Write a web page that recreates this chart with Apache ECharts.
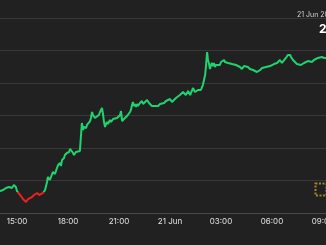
<!DOCTYPE html>
<html>
<head>
<meta charset="utf-8">
<script src="https://cdn.jsdelivr.net/npm/echarts@6/dist/echarts.min.js"></script>
<style>
html,body{margin:0;padding:0;background:#212121;}
#c{width:326px;height:245px;}
</style>
</head>
<body>
<div id="c"></div>
<script>
// Times (20 Jun -> 21 Jun), HH:MM clock
var times = ["13:52","14:00","14:11","14:21","14:32","14:39","14:42","14:49","14:53","14:56","15:00","15:07","15:14","15:21","15:28","15:32","15:39","15:46","15:53","16:00","16:07","16:11","16:18","16:25","16:32","16:39","16:46","16:49","16:56","17:04","17:07","17:14","17:21","17:25","17:32","17:35","17:39","17:46","17:49","17:53","17:56","18:04","18:07","18:11","18:14","18:18","18:21","18:25","18:28","18:35","18:42","18:46","18:49","18:53","18:56","19:04","19:07","19:14","19:18","19:21","19:25","19:28","19:32","19:35","19:39","19:42","19:49","19:53","20:00","20:04","20:07","20:11","20:14","20:18","20:21","20:28","20:32","20:39","20:46","20:53","21:00","21:04","21:07","21:11","21:14","21:21","21:28","21:32","21:39","21:42","21:46","21:49","21:53","21:56","22:00","22:04","22:07","22:14","22:21","22:25","22:32","22:39","22:42","22:46","22:49","22:56","23:04","23:11","23:18","23:25","23:32","23:39","23:46","23:53","00:00","00:07","00:14","00:21","00:28","00:35","00:42","00:46","00:49","00:53","00:56","01:00","01:04","01:07","01:11","01:14","01:18","01:21","01:25","01:28","01:32","01:35","01:39","01:46","01:49","01:53","01:56","02:00","02:04","02:07","02:11","02:14","02:18","02:21","02:25","02:28","02:32","02:35","02:39","02:42","02:49","02:56","03:00","03:04","03:07","03:11","03:14","03:21","03:25","03:32","03:39","03:46","03:53","04:00","04:07","04:14","04:18","04:21","04:28","04:35","04:42","04:49","04:53","05:00","05:07","05:11","05:18","05:25","05:32","05:39","05:46","05:53","06:00","06:07","06:14","06:18","06:25","06:28","06:35","06:42","06:49","06:56","07:00","07:04","07:07","07:14","07:21","07:28","07:35","07:42","07:46","07:53","08:00","08:07","08:14","08:21","08:28","08:35","08:42","08:49","08:56","09:04","09:11","09:18"];
// Price (USD)
var prices = [26850,26838,26854,26885,26900,26915,26885,26931,26946,26900,26838,26808,26761,26715,26685,26669,26715,26731,26746,26777,26761,26808,26777,26761,26808,26854,26977,27054,27008,27100,27131,27100,27192,27238,27269,27223,27315,27346,27392,27362,27423,27438,27485,27469,27500,27423,27392,27408,27438,27423,27454,27438,27885,27777,27823,27808,27854,27869,27915,27961,28054,28008,28038,27961,27946,27977,28008,28054,28115,28008,27900,27823,27869,27900,27869,27931,27900,27946,27931,27961,27977,28008,28069,27915,27931,27961,27992,28008,28054,28085,28161,28208,28146,28177,28131,28177,28146,28192,28223,28177,28192,28238,28254,28192,28177,28146,28146,28131,28146,28177,28192,28192,28223,28238,28254,28208,28238,28269,28285,28315,28331,28361,28331,28377,28315,28331,28377,28361,28315,28315,28331,28423,28438,28361,28346,28377,28392,28408,28392,28438,28469,28485,28623,28761,28977,28854,28792,28715,28777,28808,28761,28808,28746,28777,28792,28777,28823,28808,28823,28854,28823,28838,28808,28808,28792,28777,28777,28761,28746,28715,28731,28761,28731,28746,28715,28731,28700,28700,28669,28669,28700,28731,28731,28746,28746,28761,28777,28792,28792,28808,28823,28854,28808,28808,28885,28931,28961,28931,28900,28854,28823,28792,28808,28777,28777,28808,28823,28838,28823,28823,28854,28854,28885,28885,28900,28885,28900,28885];
var threshold = 26820;

function toHours(list){
  var out=[], day=0, prev=-1;
  for(var i=0;i<list.length;i++){
    var p=list[i].split(':'), h=+p[0]+(+p[1])/60;
    if(prev>=0 && h<prev-1) day+=24;
    prev=h; out.push(h+day);
  }
  return out;
}
var hours = toHours(times);
var data = hours.map(function(h,i){return [h, prices[i]];});

var chart = echarts.init(document.getElementById('c'), null, {renderer:'canvas'});
chart.setOption({
  backgroundColor:'#212121',
  animation:false,
  textStyle:{fontFamily:'Inter, "Liberation Sans", sans-serif'},
  grid:{left:-34, width:374, top:18, height:195, containLabel:false, outerBoundsMode:'none'},
  xAxis:{
    type:'value', min:12, max:34, interval:3,
    axisLine:{show:true, lineStyle:{color:'#4a4a4a', width:1}},
    axisTick:{show:false},
    splitLine:{show:false},
    axisLabel:{
      color:'#e2e2e2', fontSize:8, margin:5, hideOverlap:false,
      formatter:function(v){
        if(v===24) return '21 Jun';
        var h=v%24; return (h<10?'0':'')+h+':00';
      }
    }
  },
  yAxis:{
    type:'value', min:26500, max:29500, interval:500,
    axisLine:{show:false}, axisTick:{show:false}, axisLabel:{show:false},
    splitLine:{lineStyle:{color:'#383838', width:1}}
  },
  visualMap:{
    show:false, type:'piecewise', dimension:1, seriesIndex:0,
    pieces:[{gte:20000, lt:threshold, color:'#e8221e'},{gte:threshold, lte:40000, color:'#1fd36f'}]
  },
  series:[{
    type:'line', data:data, symbol:'none', smooth:false,
    lineStyle:{width:2}
  }],
  graphic:[
    {type:'text', left:297, top:11, style:{text:'21 Jun 2023', fill:'#d0d0d0', fontSize:7, fontFamily:'Inter, sans-serif', backgroundColor:'#212121'}},
    {type:'text', left:319, top:23, style:{text:'28,885', fill:'#ffffff', fontSize:12, fontWeight:'bold', fontFamily:'Inter, sans-serif'}},
    {type:'rect', left:313, top:181, shape:{x:0,y:0,width:11,height:12}, style:{fill:'none', stroke:'#a5832b', lineWidth:2, lineDash:[2,1.5]}}
  ]
});
</script>
</body>
</html>
